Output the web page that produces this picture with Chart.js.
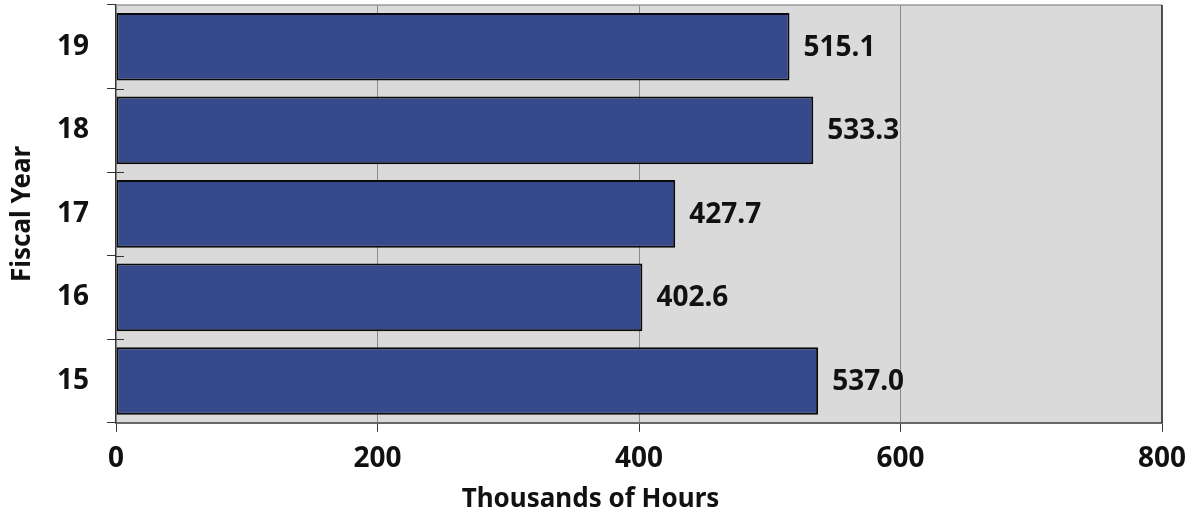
<!DOCTYPE html>
<html>
<head>
<meta charset="utf-8">
<script src="https://cdn.jsdelivr.net/npm/chart.js@4/dist/chart.umd.min.js"></script>
<style>
  html, body { margin: 0; padding: 0; background: #ffffff; }
  #wrap { width: 1193px; height: 516px; }
</style>
</head>
<body>
<div id="wrap"><canvas id="c" width="1193" height="516"></canvas></div>
<script>
// Hours by fiscal year (thousands)
const fiscalYears = ['15', '16', '17', '18', '19'];
const hoursThousands = [537.0, 402.6, 427.7, 533.3, 515.1];
const xTicks = [0, 200, 400, 600, 800];

const FONT = "'Noto Sans', 'Open Sans', sans-serif";
const BAR_COLOR = '#36498a';
const PLOT_BG = '#dadada';

// plot background, frame lines and inward category ticks
const framePlugin = {
  id: 'frame',
  afterLayout(chart) {
    // centre the bottom caption under the whole figure
    const t = chart.titleBlock;
    if (t) {
      const shift = (chart.width - (t.left + t.right)) / 2 - 6;
      t.left += shift;
      t.right += shift;
    }
  },
  beforeDraw(chart) {
    const { ctx, chartArea: a } = chart;
    ctx.save();
    ctx.fillStyle = PLOT_BG;
    ctx.fillRect(a.left, a.top, a.right - a.left, a.bottom - a.top);
    ctx.restore();
  },
  afterDatasetsDraw(chart) {
    const { ctx, chartArea: a, scales } = chart;
    const y = scales.y;
    ctx.save();
    // top edge
    ctx.strokeStyle = '#9a9a9a';
    ctx.lineWidth = 1.5;
    ctx.beginPath();
    ctx.moveTo(a.left, a.top);
    ctx.lineTo(a.right, a.top);
    ctx.stroke();
    // right edge
    ctx.strokeStyle = '#1a1a1a';
    ctx.lineWidth = 1.5;
    ctx.beginPath();
    ctx.moveTo(a.right, a.top);
    ctx.lineTo(a.right, a.bottom);
    ctx.stroke();
    // short inward ticks at category boundaries
    ctx.strokeStyle = '#333333';
    ctx.lineWidth = 1;
    for (let i = 0; i < fiscalYears.length - 1; i++) {
      const p = Math.round((y.getPixelForValue(i) + y.getPixelForValue(i + 1)) / 2) + 0.5;
      ctx.beginPath();
      ctx.moveTo(a.left, p);
      ctx.lineTo(a.left + 8, p);
      ctx.stroke();
    }
    ctx.restore();
  }
};

// value labels to the right of each bar
const valueLabelPlugin = {
  id: 'valueLabels',
  afterDatasetsDraw(chart) {
    const { ctx } = chart;
    const meta = chart.getDatasetMeta(0);
    ctx.save();
    ctx.font = `bold 28px ${FONT}`;
    ctx.fillStyle = '#111111';
    ctx.textAlign = 'left';
    ctx.textBaseline = 'middle';
    meta.data.forEach((bar, i) => {
      const v = chart.data.datasets[0].data[i];
      ctx.fillText(v.toFixed(1), bar.x + 14, bar.y + 1);
    });
    ctx.restore();
  }
};

new Chart(document.getElementById('c'), {
  type: 'bar',
  data: {
    labels: fiscalYears,
    datasets: [{
      data: hoursThousands,
      backgroundColor: BAR_COLOR,
      borderColor: '#0a0a0a',
      borderWidth: 2,
      borderSkipped: false,
      barPercentage: 0.81,
      categoryPercentage: 1.0
    }]
  },
  options: {
    indexAxis: 'y',
    responsive: false,
    animation: false,
    events: [],
    layout: { padding: { top: 5, right: 31, left: 0, bottom: 0 } },
    plugins: {
      legend: { display: false },
      tooltip: { enabled: false },
      title: {
        display: true,
        position: 'bottom',
        text: 'Thousands of Hours',
        color: '#111111',
        font: { family: FONT, size: 26, weight: 'bold', lineHeight: 1.2 },
        padding: { top: 3, bottom: 1 }
      }
    },
    scales: {
      x: {
        type: 'linear',
        min: 0,
        max: 800,
        afterBuildTicks(scale) { scale.ticks = xTicks.map(v => ({ value: v })); },
        afterFit(scale) {
          scale.height = 58;
          scale.paddingRight = 0;
        },
        border: { display: true, color: '#666666', width: 2 },
        grid: {
          drawOnChartArea: true,
          drawTicks: true,
          tickLength: 9,
          tickColor: '#333333',
          lineWidth: 1,
          color: (c) => (c.index === 0 || c.index === xTicks.length - 1) ? 'rgba(0,0,0,0)' : '#8a8a8a'
        },
        ticks: {
          color: '#111111',
          padding: 10,
          font: { family: FONT, size: 28, weight: 'bold' }
        }
      },
      y: {
        type: 'category',
        reverse: true,
        afterFit(scale) {
          scale.width = 116;
          scale.paddingTop = 0;
          scale.paddingBottom = 0;
        },
        border: { display: true, color: '#333333', width: 1.5 },
        grid: {
          offset: true,
          drawOnChartArea: false,
          drawTicks: true,
          tickLength: 9,
          tickColor: '#333333'
        },
        ticks: {
          color: '#111111',
          padding: 18,
          font: { family: FONT, size: 28, weight: 'bold' }
        },
        title: {
          display: true,
          text: 'Fiscal Year',
          color: '#111111',
          font: { family: FONT, size: 26, weight: 'bold', lineHeight: 1.2 },
          padding: { top: 7, bottom: 0 }
        }
      }
    }
  },
  plugins: [framePlugin, valueLabelPlugin]
});
</script>
</body>
</html>
